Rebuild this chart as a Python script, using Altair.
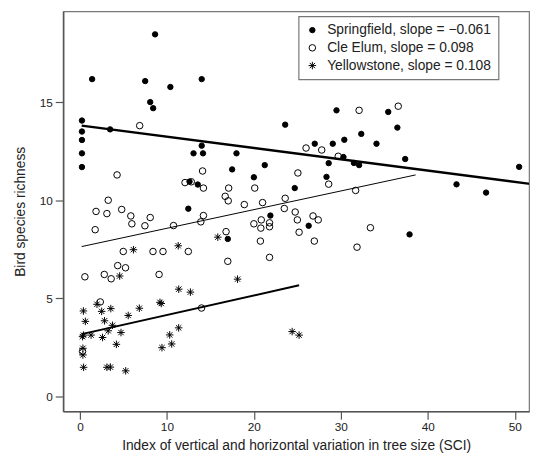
import altair as alt
import pandas as pd

sites = ["Springfield, slope = \u22120.061", "Cle Elum, slope = 0.098", "Yellowstone, slope = 0.108"]

spring_x = [0.23, 0.23, 0.23, 0.23, 0.23, 1.4, 3.47, 7.5, 8.64, 8.08, 8.42, 10.4, 14.0, 14.0, 13.06,
            14.15, 18.0, 23.6, 17.5, 21.25, 20.0, 12.6, 13.55, 12.46, 24.7, 29.5, 32.35, 34.1, 27.0,
            29.07, 30.4, 28.6, 30.3, 31.5, 32.1, 28.35, 21.9, 26.3, 17.0, 35.45, 36.5, 37.4, 50.5,
            43.3, 46.7, 37.9]
spring_y = [14.06, 13.5, 13.07, 12.39, 11.69, 16.17, 13.61, 16.07, 18.45, 15.0, 14.69, 15.77, 16.17,
            12.78, 12.39, 12.39, 12.39, 13.85, 11.57, 11.79, 11.17, 10.95, 10.8, 9.57, 10.62, 14.58,
            13.38, 12.88, 12.88, 12.88, 13.08, 11.89, 12.2, 11.9, 11.79, 11.19, 9.22, 8.7, 8.03,
            14.5, 13.7, 12.1, 11.7, 10.81, 10.39, 8.26]

cle_x = [6.87, 4.27, 14.1, 12.08, 12.8, 14.2, 17.1, 16.7, 20.1, 23.6, 3.25, 1.85, 3.1, 4.8, 5.85,
         5.97, 8.08, 7.47, 10.76, 14.2, 13.9, 1.75, 4.98, 8.4, 9.55, 12.46, 4.34, 5.24, 0.57, 2.8,
         3.59, 9.1, 2.34, 13.98, 17.05, 18.9, 21.0, 23.5, 24.75, 20.0, 20.85, 20.8, 21.8, 21.8,
         16.8, 20.75, 17.0, 21.8, 32.1, 26.0, 27.8, 29.7, 25.06, 28.6, 31.7, 25.0, 26.8, 27.4,
         25.2, 33.4, 26.95, 31.86, 36.6, 0.3]
cle_y = [13.8, 11.29, 11.49, 10.9, 10.94, 10.62, 10.62, 10.2, 10.62, 10.1, 10.0, 9.43, 9.32, 9.53,
         9.2, 8.8, 9.12, 8.7, 8.71, 9.22, 8.9, 8.5, 7.39, 7.39, 7.39, 7.39, 6.67, 6.56, 6.1, 6.22,
         6.0, 6.22, 4.82, 4.51, 9.97, 9.78, 9.88, 9.58, 9.4, 8.8, 9.0, 8.58, 8.85, 8.65, 8.4, 7.92,
         6.89, 7.09, 14.58, 12.66, 12.56, 12.24, 11.39, 10.82, 10.5, 9.0, 9.2, 9.0, 8.37, 8.6,
         7.92, 7.61, 14.79, 2.3]

yell_x = [6.15, 11.3, 15.85, 4.57, 11.36, 12.7, 9.2, 9.35, 6.83, 5.55, 3.55, 2.5, 1.96, 0.4, 0.62,
          2.83, 3.74, 3.25, 4.72, 2.6, 1.28, 0.4, 0.3, 4.19, 0.34, 0.34, 0.42, 3.1, 3.5, 5.26,
          11.35, 10.32, 10.55, 9.43, 18.12, 24.4, 25.2]
yell_y = [7.48, 7.68, 8.12, 6.14, 5.47, 5.32, 4.8, 4.74, 4.5, 4.13, 4.48, 4.34, 4.7, 4.36, 3.83,
          3.86, 3.63, 3.35, 3.26, 3.01, 3.13, 3.13, 3.05, 2.66, 2.46, 2.12, 1.49, 1.49, 1.5, 1.31,
          3.5, 3.14, 2.68, 2.49, 5.98, 3.31, 3.13]

# fitted regression lines (endpoints)
line_x = [0.2, 52.0, 0.2, 38.6, 0.2, 25.2]
line_y = [13.8, 10.82, 7.64, 11.29, 3.18, 5.67]
line_site = [sites[0], sites[0], sites[1], sites[1], sites[2], sites[2]]

x_ticks = [0, 10, 20, 30, 40, 50]
y_ticks = [0, 5, 10, 15]

pts = pd.concat([
    pd.DataFrame({"sci": spring_x, "rich": spring_y, "site": sites[0]}),
    pd.DataFrame({"sci": cle_x, "rich": cle_y, "site": sites[1]}),
    pd.DataFrame({"sci": yell_x, "rich": yell_y, "site": sites[2]}),
], ignore_index=True)
lines = pd.DataFrame({"sci": line_x, "rich": line_y, "site": line_site})

asterisk = "M0,-1L0,1M-1,0L1,0M-0.71,-0.71L0.71,0.71M-0.71,0.71L0.71,-0.71"

xs = alt.Scale(domain=[-1.93, 51.64], nice=False, zero=False)
ys = alt.Scale(domain=[-0.75, 19.62], nice=False, zero=False)

xax = alt.Axis(values=x_ticks, title="Index of vertical and horizontal variation in tree size (SCI)",
               grid=False, titlePadding=6)
yax = alt.Axis(values=y_ticks, title="Bird species richness", grid=False, titlePadding=12)

leg = alt.Legend(title=None, orient="none", legendX=239, legendY=5)

points = alt.Chart(pts).mark_point(strokeWidth=1.0, opacity=1).encode(
    x=alt.X("sci:Q", scale=xs, axis=xax),
    y=alt.Y("rich:Q", scale=ys, axis=yax),
    shape=alt.Shape("site:N", scale=alt.Scale(domain=sites, range=["circle", "circle", asterisk]),
                    legend=leg, sort=sites),
    fill=alt.Fill("site:N", scale=alt.Scale(domain=sites, range=["black", "transparent", "transparent"]),
                  legend=leg, sort=sites),
    stroke=alt.Stroke("site:N", scale=alt.Scale(domain=sites, range=["black", "black", "black"]),
                      legend=leg, sort=sites),
    size=alt.Size("site:N", scale=alt.Scale(domain=sites, range=[30, 58, 125]), legend=leg, sort=sites),
)

widths = [2.4, 1.0, 2.0]
regs = [
    alt.Chart(lines).transform_filter(alt.datum.site == s).mark_line(
        color="black", clip=True, strokeWidth=w
    ).encode(x=alt.X("sci:Q", scale=xs), y=alt.Y("rich:Q", scale=ys))
    for s, w in zip(sites, widths)
]

chart = alt.layer(points, *regs).properties(
    width=473, height=406,
    autosize=alt.AutoSizeParams(type="none"),
    padding={"left": 56, "top": 0, "right": 3, "bottom": 45},
).configure_view(
    stroke="#777", strokeWidth=1.2
).configure_axis(
    labelFont="Liberation Sans", titleFont="Liberation Sans", labelFontSize=12, titleFontSize=14,
    titleFontWeight="normal", labelColor="#222", titleColor="#222",
    domainColor="#555", domainWidth=1.6, tickColor="#555", tickSize=8, tickWidth=1.2, labelPadding=3,
).configure_legend(
    labelFont="Liberation Sans", labelFontSize=14, labelColor="#222", padding=7,
    strokeColor="#777", strokeWidth=1.2, fillColor="white", rowPadding=4, labelOffset=8,
    symbolStrokeWidth=1.0, cornerRadius=0, labelLimit=300,
)

chart.save("out.html", embed_options={"renderer": "svg", "actions": False})
